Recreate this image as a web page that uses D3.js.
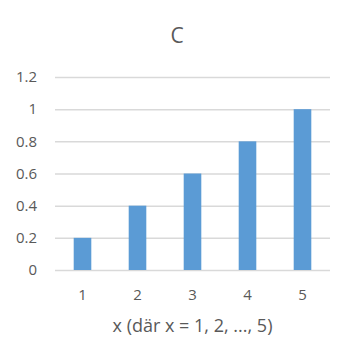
<!DOCTYPE html>
<html>
<head>
<meta charset="utf-8">
<script src="https://cdn.jsdelivr.net/npm/d3@7"></script>
<style>
  body { margin: 0; background: #fff; }
  svg text { font-family: "Open Sans", sans-serif; fill: #595959; }
</style>
</head>
<body>
<svg width="352" height="362"></svg>
<script>
var categories = ["1", "2", "3", "4", "5"];
var values = [0.2, 0.4, 0.6, 0.8, 1.0];
var yTicks = [0, 0.2, 0.4, 0.6, 0.8, 1, 1.2];
var title = "C";
var xLabel = "x (där x = 1, 2, ..., 5)";

var svg = d3.select("svg");
var plotLeft = 55, plotRight = 330, plotTop = 77, plotBottom = 270;

// scales
var xScale = d3.scaleBand()
	.domain(categories)
	.range([plotLeft, plotRight])
	.paddingInner(0.68)
	.paddingOuter(0.34);

var yScale = d3.scaleLinear()
	.domain([0, 1.2])
	.range([plotBottom, plotTop]);

// gridlines
var yGrid = d3.axisLeft(yScale)
	.tickValues(yTicks)
	.tickSize(-(plotRight - plotLeft))
	.tickFormat("");

svg.append("g")
	.attr("transform", "translate(" + plotLeft + ",0)")
	.call(yGrid)
	.call(function(g) {
		g.select(".domain").remove();
		g.selectAll("line").attr("stroke", "#d9d9d9").attr("stroke-width", 1.5);
	});

// y labels
var yAxis = d3.axisLeft(yScale)
	.tickValues(yTicks)
	.tickSize(0)
	.tickPadding(18)
	.tickFormat(d3.format("~g"));

svg.append("g")
	.attr("transform", "translate(" + plotLeft + ",0)")
	.call(yAxis)
	.call(function(g) {
		g.select(".domain").remove();
		g.selectAll("text").attr("font-size", 15).style("font-family", null);
	});

// bars
svg.append("g")
	.selectAll("rect")
	.data(values)
	.enter()
	.append("rect")
	.attr("x", function(d, i) { return xScale(categories[i]); })
	.attr("width", xScale.bandwidth())
	.attr("y", function(d) { return yScale(d); })
	.attr("height", function(d) { return yScale(0) - yScale(d); })
	.attr("fill", "#5b9bd5");

// x labels
var xAxis = d3.axisBottom(xScale)
	.tickSize(0)
	.tickPadding(19);

svg.append("g")
	.attr("transform", "translate(0," + plotBottom + ")")
	.call(xAxis)
	.call(function(g) {
		g.select(".domain").remove();
		g.selectAll("text").attr("font-size", 15).style("font-family", null);
	});

// x axis title
svg.append("text")
	.attr("x", (plotLeft + plotRight) / 2)
	.attr("y", 332)
	.attr("text-anchor", "middle")
	.attr("font-size", 18)
	.text(xLabel);

// chart title
svg.append("text")
	.attr("x", 177)
	.attr("y", 43)
	.attr("text-anchor", "middle")
	.attr("font-size", 21)
	.text(title);
</script>
</body>
</html>
